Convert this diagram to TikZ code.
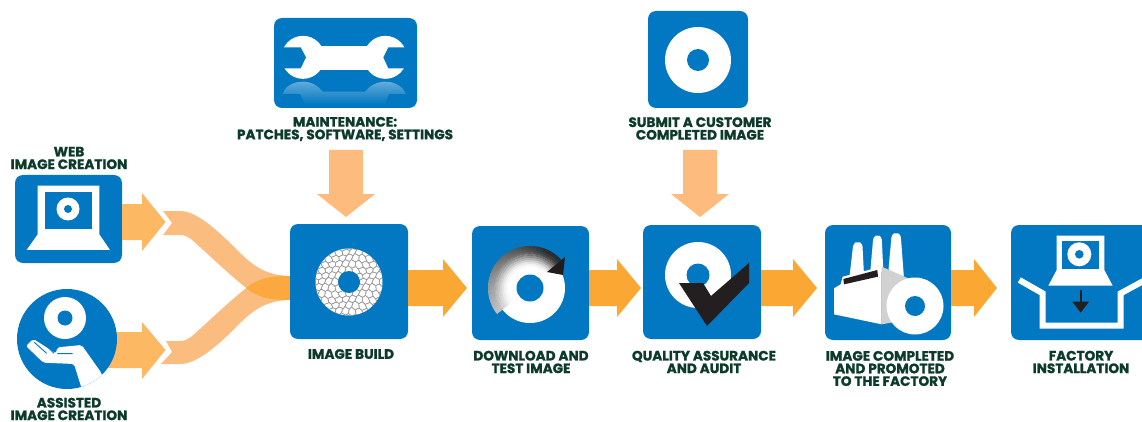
\documentclass[tikz,border=0pt]{standalone}
\usepackage{fontspec}
\setmainfont{Poppins}[BoldFeatures={FakeBold=1.3}]
\usetikzlibrary{calc}
\definecolor{iblue}{HTML}{0277C2}
\definecolor{ink}{HTML}{0D3B2A}
\definecolor{oa}{HTML}{FBA733}
\definecolor{ob}{HTML}{FDB863}
\definecolor{oc}{HTML}{FDBB7E}
\definecolor{fl}{HTML}{FBBC80}
\definecolor{fld}{HTML}{FBA93E}
\definecolor{blk}{HTML}{231F20}
\tikzset{
 tile/.style={rectangle,rounded corners=8pt,fill=iblue,inner sep=0pt,minimum width=#1},
 lab/.style={font=\fontsize{13.6}{12.6}\selectfont\bfseries,text=ink,align=center,inner sep=0pt},
 zoomed/.style={shift={#1},x=.33333pt,y=-.33333pt},
}
\newcommand{\discat}[4]{\fill[white] (#1,#2) circle[radius=#3pt]; \fill[iblue] (#1,#2) circle[radius=#4pt];}
\newcommand{\harrow}[4]{\fill[#4] let \p1=(#1),\p2=(#2),\p3=(#3) in (\x1,\y2-18pt) -- (\x3,\y2-18pt) -- (\x3,\y2-29pt) -- (\x2,\y2) -- (\x3,\y2+29pt) -- (\x3,\y2+18pt) -- (\x1,\y2+18pt) -- cycle;}
\newcommand{\varrow}[2]{\fill[oc] let \p1=(#1),\p2=(#2) in (\x2-17pt,\y1) -- (\x2+17pt,\y1) -- (\x2+17pt,\y2+23pt) -- (\x2+29pt,\y2+23pt) -- (\x2,\y2) -- (\x2-29pt,\y2+23pt) -- (\x2-17pt,\y2+23pt) -- cycle;}
\newcommand{\flowtop}{(163,211) -- (180,211) .. controls (195,211) and (212,226) .. (227,240) .. controls (245,257) and (258,276) .. (291,276) -- (291,300) .. controls (270,300) and (258,298) .. (245,287) .. controls (230,275) and (212,258) .. (200,247) .. controls (192,240) and (188,235) .. (180,235) -- (163,235) -- (172,223) -- cycle}
\newcommand{\flowbot}{(166,341) -- (180,341) .. controls (188,341) and (192,336) .. (200,329) .. controls (212,318) and (230,301) .. (245,289) .. controls (258,278) and (270,276) .. (291,276) -- (291,300) .. controls (258,300) and (245,319) .. (227,336) .. controls (212,350) and (195,364) .. (180,364) -- (161,364) -- (172,352) -- cycle}
\begin{document}
\begin{tikzpicture}[x=1pt,y=-1pt]
\clip (0,0) rectangle (1142,422);
\useasboundingbox (0,0) rectangle (1142,422);

% flows merging into the build tile
\fill[fl] \flowtop;
\fill[fl] \flowbot;
\begin{scope}
\clip \flowtop;
\fill[fld] \flowbot;
\end{scope}

% tiles
\node[tile=107pt,minimum height=88pt] (web) at (68.5,219) {};
\coordinate (t2) at (165.5,350);
\fill[ob] (100,332) -- (142,332) -- (142,322) -- (t2) -- (142,379) -- (142,368) -- (100,368) -- cycle;
\node[circle,fill=iblue,minimum size=100pt,inner sep=0pt] (assist) at (67,339) {};
\node[tile=143pt,minimum height=90pt] (maint) at (345.5,63) {};
\node[tile=100pt,minimum height=97pt] (submit) at (698,59.5) {};
\node[tile=118pt,minimum height=115pt] (build) at (349,281.5) {};
\node[tile=117pt,minimum height=114pt] (down) at (530.5,283) {};
\node[tile=118pt,minimum height=114pt] (qa) at (702,282) {};
\node[tile=126pt,minimum height=115pt] (done) at (888,282.5) {};
\node[tile=145pt,minimum height=115pt] (fac) at (1083.5,282.5) {};

% block arrows
\coordinate (t1) at (165.5,222); \coordinate (h1) at (142,222);
\coordinate (tA) at (467,288); \coordinate (hA) at (443,288);
\coordinate (tB) at (641,288); \coordinate (hB) at (617,288);
\coordinate (tC) at (817,288); \coordinate (hC) at (793,288);
\coordinate (tD) at (997,288); \coordinate (hD) at (974,288);
\harrow{web.east}{t1}{h1}{ob}
\harrow{build.east}{tA}{hA}{oa}
\harrow{down.east}{tB}{hB}{oa}
\harrow{qa.east}{tC}{hC}{oa}
\harrow{done.east}{tD}{hD}{oa}
\coordinate (ma) at (346,150); \coordinate (mb) at (346,217);
\coordinate (sa) at (700,150); \coordinate (sb) at (700,217);
\varrow{ma}{mb}
\varrow{sa}{sb}

% laptop on web tile
\begin{scope}[zoomed={(0,140)}]
\fill[white] (113,137) -- (298,137) -- (298,283) -- (330,330) -- (80,330) -- (113,283) -- cycle;
\fill[iblue] (134,157) rectangle (277,267);
\end{scope}
\discat{68}{209}{11.5}{4}

% hand and disc
\discat{65}{318}{21}{7.5}
\begin{scope}
\clip (assist.center) circle[radius=50pt];
\begin{scope}[zoomed={(0,140)}]
\fill[white,rounded corners=2pt] (78,618) -- (100,597) -- (168,640) -- (172,622) -- (245,615) -- (305,700) -- (330,800) -- (262,800) -- (222,672) -- (130,668) -- cycle;
\draw[iblue,line width=.9pt] (103,607) -- (140,640) (125,603) -- (162,640) (172,641) -- (218,641);
\end{scope}
\end{scope}

% wrench
\begin{scope}[zoomed={(260,0)}]
\shade[top color=iblue!62!white,bottom color=iblue] (68,282) .. controls (75,258) and (100,245) .. (130,245) .. controls (155,245) and (175,258) .. (188,275) -- (315,275) .. controls (328,258) and (350,245) .. (375,245) .. controls (405,245) and (430,260) .. (437,282) -- (387,282) -- (375,312) -- (135,312) -- (120,282) -- cycle;
\fill[white] (129,172) circle[radius=21.5pt];
\fill[white] (376,172) circle[radius=21.5pt];
\fill[white] (150,137) rectangle (350,210);
\fill[iblue] (50,142) -- (122,142) -- (138,172) -- (122,205) -- (50,205) -- cycle;
\fill[iblue] (452,142) -- (385,142) -- (370,172) -- (385,205) -- (452,205) -- cycle;
\end{scope}

% submit disc
\discat{698}{60}{33}{11}

% build disc with cells
\fill[white] (349,282) circle[radius=33.5pt];
\begin{scope}
\clip (349,282) circle[radius=33.5pt];
\begin{scope}[shift={(349,282)}]
\foreach \i in {-6,...,6}{\foreach \j in {-7,...,7}{
 \pgfmathsetmacro\cx{6.8*\i+3.4*\j}
 \pgfmathsetmacro\cy{5.9*\j}
 \foreach \a in {30,90,150,210,270,330}{
  \pgfmathsetmacro\ax{\cx+3.93*cos(\a)}
  \pgfmathsetmacro\ay{\cy+3.93*sin(\a)}
  \pgfmathsetmacro\bx{\cx+3.93*cos(\a+60)}
  \pgfmathsetmacro\by{\cy+3.93*sin(\a+60)}
  \pgfmathsetmacro\Ax{\ax+.9*sin(97*\ax+53*\ay)}
  \pgfmathsetmacro\Ay{\ay+.9*cos(61*\ax-83*\ay)}
  \pgfmathsetmacro\Bx{\bx+.9*sin(97*\bx+53*\by)}
  \pgfmathsetmacro\By{\by+.9*cos(61*\bx-83*\by)}
  \draw[black!40,line width=.55pt] (\Ax,\Ay) -- (\Bx,\By);
 }}}
\end{scope}
\end{scope}
\fill[iblue] (349,282) circle[radius=11pt];

% download disc with rotating arc
\fill[white] (530,288) circle[radius=35pt];
\begin{scope}[shift={(530,288)}]
\foreach \a in {217,215,...,43}{
 \pgfmathsetmacro\tt{(217-\a)/174}
 \pgfmathsetmacro\base{24+60*min(1,\tt*1.15)}
 \foreach \r/\f in {42/1,40/.97,38/.92,36/.85,34/.72,32/.58,30/.42,28/.27,26/.14,24/.05}{
  \pgfmathsetmacro\cc{\base*\f}
  \pgfmathsetmacro\rin{\r-2.2}
  \pgfmathsetmacro\aone{-\a-1.2}
  \pgfmathsetmacro\atwo{-\a+1.2}
  \fill[black!\cc!white] (\aone:\r) -- (\atwo:\r) -- (\atwo:\rin) -- (\aone:\rin) -- cycle;
 }}
\end{scope}
\fill[blk!90!black] (565,257) -- (563,275) -- (547,272) -- cycle;
\fill[iblue] (530,288) circle[radius=13.5pt];

% quality
\discat{698}{275}{33}{11.5}
\fill[blk] (679,283) -- (703,283) -- (711,296) -- (749,263) -- (749,283) -- (707,326) -- cycle;

% factory
\begin{scope}[zoomed={(630,215)}]
\fill[white,rounded corners=3pt] (658,190) -- (670,85) -- (683,80) -- (697,85) -- (702,180) -- cycle;
\fill[white,rounded corners=3pt] (720,180) -- (730,65) -- (743,60) -- (755,65) -- (760,170) -- cycle;
\fill[white,rounded corners=3pt] (775,170) -- (785,58) -- (798,53) -- (812,58) -- (822,190) -- cycle;
\fill[white] (612,220) -- (632,208) -- (638,185) -- (755,155) -- (755,328) -- (612,298) -- cycle;
\fill[black!18] (755,155) -- (835,190) -- (800,320) -- (755,328) -- cycle;
\fill[blk] (640,192) -- (742,165) -- (744,185) -- (642,208) -- cycle;
\end{scope}
\discat{915}{306}{28.5}{10}

% factory installation
\begin{scope}[zoomed={(960,215)}]
\fill[white] (290,62) -- (433,62) -- (433,165) -- (458,212) -- (265,212) -- (290,165) -- cycle;
\fill[iblue] (306,78) rectangle (418,163);
\draw[white,line width=6pt] (178,195) -- (248,235) -- (248,332) -- (482,332) -- (482,235) -- (552,197);
\draw[blk,line width=2.2pt] (362,225) -- (362,265);
\fill[blk] (337,260) -- (387,260) -- (362,293) -- cycle;
\end{scope}
\discat{1079.3}{254.3}{12}{4.3}

% labels
\node[lab] (l1) at (69,158) {WEB\\IMAGE CREATION};
\node[lab] (l2) at (69,409) {ASSISTED\\IMAGE CREATION};
\node[lab] (l3) at (345,129) {MAINTENANCE:\\PATCHES, SOFTWARE, SETTINGS};
\node[lab] (l4) at (700,128.5) {SUBMIT A CUSTOMER\\COMPLETED IMAGE};
\node[lab] (l5) at (351,354) {IMAGE BUILD};
\node[lab] (l6) at (531,362) {DOWNLOAD AND\\TEST IMAGE};
\node[lab] (l7) at (704,362) {QUALITY ASSURANCE\\AND AUDIT};
\node[lab] (l8) at (890,368.5) {IMAGE COMPLETED\\AND PROMOTED\\TO THE FACTORY};
\node[lab] (l9) at (1081,362) {FACTORY\\INSTALLATION};
\end{tikzpicture}
\end{document}
